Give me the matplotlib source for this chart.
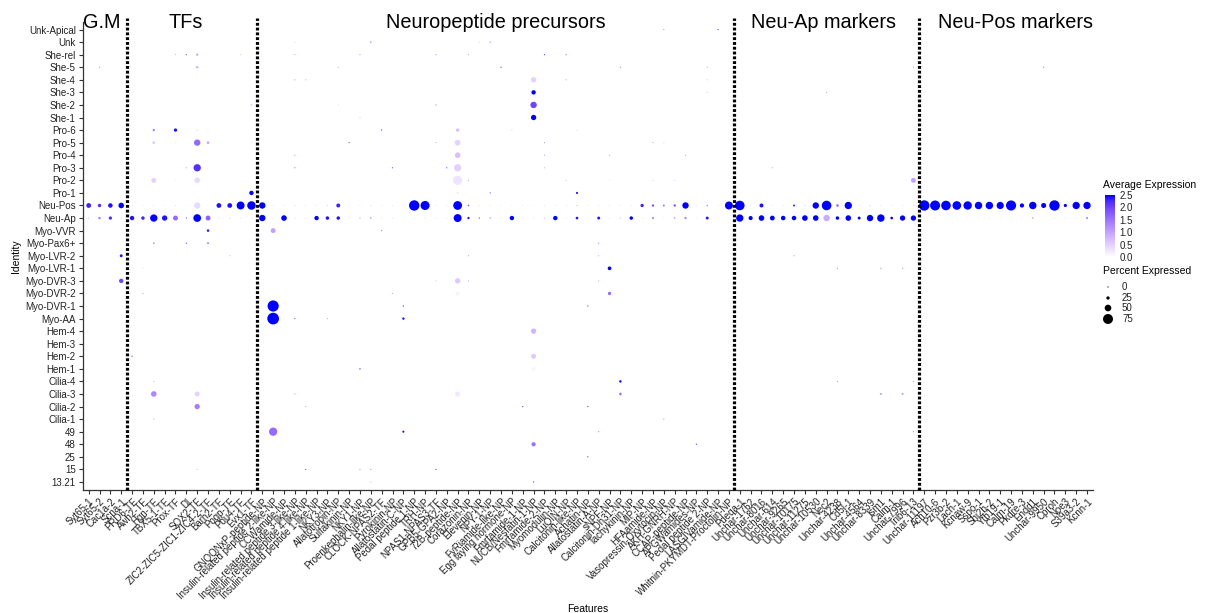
import matplotlib
matplotlib.use("Agg")
import matplotlib.pyplot as plt
import numpy as np
from matplotlib.colors import LinearSegmentedColormap, Normalize
from matplotlib.transforms import blended_transform_factory

plt.rcParams["font.family"] = ["Liberation Sans", "DejaVu Sans"]

# rows, top to bottom
cell_types = ["Unk-Apical", "Unk", "She-rel", "She-5", "She-4", "She-3", "She-2", "She-1",
              "Pro-6", "Pro-5", "Pro-4", "Pro-3", "Pro-2", "Pro-1", "Neu-Pos", "Neu-Ap",
              "Myo-VVR", "Myo-Pax6+", "Myo-LVR-2", "Myo-LVR-1", "Myo-DVR-3", "Myo-DVR-2",
              "Myo-DVR-1", "Myo-AA", "Hem-4", "Hem-3", "Hem-2", "Hem-1", "Cilia-4", "Cilia-3",
              "Cilia-2", "Cilia-1", "49", "48", "25", "15", "13.21"]

gm_features = ["Syt65-1", "Syt65-2", "Cac1a-2", "Scna-1"]
tf_features = ["PRD6-TF", "Awh2-TF", "Hgn-TF", "TBX5-1-TF", "Prox-TF", "Dl", "SOX2-TF",
               "ZIC2-ZIC5-ZIC1-ZIC4-2-TF", "Barh2-TF", "Pogp-TF", "Pou4-TF", "Evx1-TF"]
np_features = ["GNQQNxP-peptide-NP", "Insulin-related peptide 2-like-NP", "CCWamide-NP",
               "Insulin-related peptide 3-like-NP", "Insulin-related peptide 4-like-NP",
               "Insulin-related peptide 1-like-NP", "NKY3-NP", "Allatotropin-NP", "Sulfakinin-NP",
               "NKY1-NP", "Proenkephalin-like-NP", "CLOCK-NPAS2-TF", "Pyrokinin-NP",
               "Allatostatin-C-NP", "Pedal peptide 1-NP", "TRH-NP", "NPAS1-NPAS3-TF",
               "GPB5-GPA2-NP", "72B-peptide-NP", "Corazonin-NP", "Elevenin-NP", "NPY-1-NP",
               "FyRiamide-like-NP", "Egg laying hormone-NP", "Fmrfamide-1-NP",
               "NUCB/Nesfatin-1-NP", "Fmrfamide-2-NP", "Myomodulin-NP", "LuQIN-NP",
               "Calcitonin-like-NP", "Achatin-NP", "Allatostatin-A-NP", "sNPF-NP",
               "Calcitonin-Dh31-NP", "Tachykinin-NP", "MIP-NP", "HFAamide-NP",
               "Vasopressin-Oxytocin-NP", "AKH-GNRH-NP", "CCAP-peptide-NP", "APGWamides-NP",
               "Pedal peptide 2-NP", "LASGIVamide-NP", "Whitnin-PKYMDT-Proctolin-NP"]
neu_ap_features = ["Pdeqa-1", "Unchar-1762", "Unchar-8016", "Unchar-614", "Unchar-9265",
                   "Unchar-10175", "Unchar-11275", "Unchar-10530", "Nec2", "Unchar-4238",
                   "Cd5l-1", "Unchar-4564", "Unchar-8339", "Ism1", "Calm-1", "Unchar-7996",
                   "Trib6-13"]
neu_pos_features = ["Unchar-11197", "Ach10-6", "Pzr3b-2", "Lach-1", "Kcnaw-9", "Sspo-1",
                    "Shi2b-2", "Ytb19-1", "Calm-19", "Pkdre-3", "Endd1", "Unchar-9950",
                    "Cproh", "Noe3", "S39a3-2", "Kcnn-1"]
group_titles = ["G.M", "TFs", "Neuropeptide precursors", "Neu-Ap markers", "Neu-Pos markers"]
group_title_x = [1.25, 8.9, 37.5, 67.7, 85.4]

features = gm_features + tf_features + np_features + neu_ap_features + neu_pos_features

# average expression / percent expressed, one value per feature
neu_pos_avg = [2.3, 2.2, 2.4, 2.5,
               0.3, 0.2, 0.3, 0.2, 0.4, 0.2, 0.4, 0.2, 2.4, 2.4, 2.5, 2.5,
               2.5, 0.3, 0.3, 0.5, 0.3, 0.3, 0.5, 2.3, 0.3, 0.3, 0.4, 0.3, 0.3, 0.3, 2.5,
               2.5, 0.3, 0.3, 2.5, 1.8, 0.3, 0.3, 0.3, 0.3, 0.3, 0.2, 0.3, 0.3, 0.3, 0.8,
               0.3, 0.3, 0.3, 0.3, 0.3, 2.3, 2.0, 1.5, 2.0, 2.5, 0.3, 1.2, 0.3, 2.5,
               2.5, 0.3, 2.4, 0.3, 0.3, 2.3, 0.5, 2.5, 2.5, 1.6, 2.5, 0.3, 0.6, 0.3, 0.3,
               0.3, 0.5,
               2.5, 2.5, 2.5, 2.5, 2.5, 2.5, 2.5, 2.5, 2.5, 2.5, 2.5, 2.5, 2.5, 2.5, 2.5, 2.5]
neu_pos_pct = [36, 26, 34, 42,
               3, 2, 3, 2, 5, 2, 48, 2, 36, 36, 60, 64,
               48, 2, 2, 3, 2, 2, 3, 30, 2, 2, 3, 2, 2, 2, 78,
               68, 2, 2, 66, 12, 3, 2, 2, 2, 2, 3, 2, 2, 2, 6,
               2, 2, 2, 2, 2, 25, 17, 15, 17, 48, 2, 12, 2, 60,
               72, 3, 30, 3, 3, 15, 6, 48, 72, 20, 55, 3, 8, 3, 3,
               3, 6,
               78, 75, 72, 65, 63, 56, 56, 54, 76, 32, 56, 38, 78, 24, 55, 55]

neu_ap_avg = [0.8, 1.5, 2.2, 0.5,
              2.4, 2.3, 2.5, 2.4, 1.6, 2.0, 2.5, 1.7, 0.3, 0.5, 0.3, 0.3,
              2.5, 0.3, 2.5, 0.3, 0.3, 2.5, 2.4, 2.4, 0.3, 1.0, 2.0, 0.3, 0.3, 0.3, 0.3,
              0.3, 0.3, 0.3, 2.5, 2.4, 1.8, 1.5, 0.3, 2.5, 0.3, 0.3, 0.8, 2.5, 0.3, 2.4,
              0.3, 2.4, 0.3, 0.4, 2.5, 0.3, 2.2, 0.3, 1.2, 1.4, 0.3, 2.4, 0.3, 0.3,
              2.5, 2.5, 2.5, 2.5, 2.5, 2.5, 2.5, 2.5, 0.9, 2.5, 2.5, 2.5, 2.5, 2.5, 2.5,
              2.5, 2.5,
              0.3, 0.3, 0.3, 0.3, 0.3, 0.3, 0.3, 0.3, 0.3, 0.3, 1.5, 0.3, 0.4, 0.3, 0.3, 1.6]
neu_ap_pct = [8, 18, 25, 10,
              33, 26, 55, 40, 37, 8, 58, 37, 3, 5, 3, 3,
              48, 3, 42, 3, 3, 33, 26, 26, 3, 6, 8, 3, 3, 3, 3,
              3, 3, 3, 60, 17, 10, 10, 3, 33, 3, 3, 8, 33, 3, 20,
              3, 22, 3, 12, 26, 3, 12, 3, 12, 17, 3, 22, 3, 3,
              55, 31, 42, 36, 34, 34, 42, 42, 48, 26, 42, 22, 48, 56, 20,
              40, 40,
              3, 3, 3, 3, 3, 3, 3, 3, 3, 3, 10, 3, 10, 3, 3, 14]

# other cell types: (feature index, average expression, percent expressed)
sparse_dots = {
    "Unk-Apical": [(53, 1.2, 6), (58, 2.2, 7)],
    "Unk": [(19, 0.5, 4), (26, 2.0, 8), (36, 0.5, 4), (37, 1.5, 6)],
    "She-rel": [(8, 0.8, 5), (9, 2.0, 8), (10, 0.9, 18), (14, 0.5, 5), (19, 1.0, 6), (25, 1.0, 6),
                (32, 1.2, 6), (35, 1.0, 5), (42, 2.2, 7), (44, 1.5, 6)],
    "She-5": [(1, 1.2, 8), (10, 0.8, 20), (23, 1.0, 8), (38, 2.2, 7), (49, 1.4, 8), (57, 1.0, 6),
              (76, 1.2, 6), (88, 1.5, 8)],
    "She-4": [(19, 1.0, 5), (20, 0.8, 4), (41, 0.5, 40), (44, 1.0, 5), (57, 0.6, 4)],
    "She-3": [(41, 2.5, 33), (57, 0.6, 4), (68, 1.0, 5)],
    "She-2": [(15, 0.5, 15), (23, 0.4, 5), (32, 1.5, 5), (41, 2.0, 48)],
    "She-1": [(25, 0.5, 4), (41, 2.5, 40)],
    "Pro-6": [(6, 1.4, 18), (8, 2.4, 25), (10, 0.6, 10), (11, 0.3, 6), (27, 2.0, 10), (34, 0.7, 25),
              (39, 0.5, 5), (45, 0.5, 5)],
    "Pro-5": [(6, 0.6, 20), (8, 0.3, 8), (10, 1.6, 48), (11, 1.0, 20), (15, 0.3, 8), (24, 2.0, 8),
              (32, 1.0, 5), (34, 0.5, 42), (42, 1.2, 6), (52, 1.0, 5), (53, 0.5, 4)],
    "Pro-4": [(19, 1.2, 6), (34, 0.7, 42), (42, 1.0, 5), (48, 0.8, 10), (55, 1.0, 5)],
    "Pro-3": [(9, 1.0, 5), (10, 2.2, 55), (19, 1.5, 8), (28, 2.0, 8), (33, 2.0, 6), (34, 0.5, 55),
              (42, 0.8, 5), (63, 1.0, 6)],
    "Pro-2": [(6, 0.5, 37), (8, 0.2, 8), (10, 0.4, 42), (11, 0.2, 8), (34, 0.3, 70), (35, 1.0, 7),
              (44, 0.6, 4), (48, 0.3, 8), (52, 0.6, 4), (54, 0.6, 4), (76, 1.0, 37)],
    "Pro-1": [(15, 2.5, 33), (34, 0.4, 12), (37, 2.0, 8), (45, 2.4, 16)],
    "Myo-VVR": [(11, 2.3, 20), (17, 1.0, 37), (27, 1.5, 7)],
    "Myo-Pax6+": [(6, 1.4, 12), (9, 2.2, 7), (11, 1.5, 14), (47, 1.4, 7)],
    "Myo-LVR-2": [(3, 2.4, 22), (13, 0.8, 6), (35, 1.0, 6), (47, 1.0, 6), (65, 1.2, 6)],
    "Myo-LVR-1": [(5, 0.4, 4), (48, 2.5, 28), (69, 1.3, 6), (73, 1.3, 6), (75, 1.3, 6)],
    "Myo-DVR-3": [(3, 2.0, 33), (32, 0.6, 5), (34, 0.6, 40), (35, 1.0, 6), (47, 1.0, 6)],
    "Myo-DVR-2": [(5, 1.0, 5), (28, 1.0, 5), (34, 0.15, 30), (48, 1.6, 25)],
    "Myo-DVR-1": [(17, 2.5, 84), (29, 1.5, 12), (46, 2.2, 7)],
    "Myo-AA": [(17, 2.5, 88), (19, 2.0, 8), (22, 1.0, 6), (29, 2.4, 18)],
    "Hem-4": [(41, 0.8, 40)],
    "Hem-3": [],
    "Hem-2": [(4, 1.3, 12), (41, 0.6, 37)],
    "Hem-1": [(25, 2.2, 10), (41, 0.1, 30)],
    "Cilia-4": [(6, 0.8, 7), (49, 2.5, 18), (69, 1.2, 5), (76, 1.2, 5)],
    "Cilia-3": [(6, 1.3, 42), (10, 0.5, 37), (19, 1.0, 8), (34, 0.25, 37), (49, 1.5, 20),
                (73, 1.0, 16), (75, 1.0, 16)],
    "Cilia-2": [(10, 1.4, 40), (20, 1.0, 6), (40, 2.2, 6), (46, 2.2, 6)],
    "Cilia-1": [(6, 1.0, 7), (53, 1.2, 6)],
    "49": [(17, 1.6, 62), (29, 2.4, 16), (47, 1.3, 6), (76, 1.4, 7)],
    "48": [(41, 1.5, 32), (56, 2.2, 7)],
    "25": [(46, 2.2, 6)],
    "15": [(10, 0.9, 7), (20, 2.0, 7), (25, 1.2, 7), (26, 1.2, 7), (32, 2.2, 6)],
    "13.21": [(26, 0.8, 5), (41, 1.5, 12)],
}

legend_pct = [0, 25, 50, 75]
legend_avg_ticks = [0.0, 0.5, 1.0, 1.5, 2.0, 2.5]

# white -> blue, interpolated in Lab like ggplot
cmap = LinearSegmentedColormap.from_list(
    "avg", [(0, "#FFFFFF"), (0.25, "#DCC5FF"), (0.5, "#B28BFF"), (0.75, "#7E51FF"),
            (0.9, "#502BFF"), (1, "#0000FF")])
norm = Normalize(0, 2.5)


def dot_size(pct):
    d_px = np.maximum(1.2, np.asarray(pct, dtype=float) * 0.133)
    return (d_px * 0.72) ** 2


xs, ys, cs, ss = [], [], [], []
for name, avg, pct in [("Neu-Pos", neu_pos_avg, neu_pos_pct), ("Neu-Ap", neu_ap_avg, neu_ap_pct)]:
    r = cell_types.index(name)
    for j in range(len(features)):
        xs.append(j); ys.append(r); cs.append(avg[j]); ss.append(pct[j])
for name, dots in sparse_dots.items():
    r = cell_types.index(name)
    for j, avg, pct in dots:
        xs.append(j); ys.append(r); cs.append(avg); ss.append(pct)

W, H = 1212, 613
fig = plt.figure(figsize=(W / 100, H / 100), dpi=100)
ax = fig.add_axes([82.7 / W, (H - 489.5) / H, (1093 - 82.7) / W, (489.5 - 22) / H])

order = np.argsort(ss)
ax.scatter(np.array(xs)[order], np.array(ys)[order], s=dot_size(np.array(ss)[order]),
           c=np.array(cs)[order], cmap=cmap, norm=norm, linewidths=0, zorder=2)

n = len(features)
ax.set_xlim(-0.55, n - 1 + 0.55)
ax.set_ylim(len(cell_types) - 1 + 0.6, -0.6)
ax.set_xticks(range(n))
ax.set_xticklabels(features, rotation=45, ha="right", va="top", rotation_mode="anchor",
                   fontsize=7, color="#222222")
ax.set_yticks(range(len(cell_types)))
ax.set_yticklabels(cell_types, fontsize=7, color="#222222")
ax.tick_params(length=3, width=0.8, color="#333333", pad=2)
for side in ["top", "right"]:
    ax.spines[side].set_visible(False)
for side in ["left", "bottom"]:
    ax.spines[side].set_linewidth(0.9)
    ax.spines[side].set_color("#333333")
ax.set_xlabel("Features", fontsize=7.5, labelpad=2)
ax.set_ylabel("Identity", fontsize=7.5, labelpad=3)

# group separators and titles
trans = blended_transform_factory(ax.transData, ax.transAxes)
bounds = np.cumsum([len(gm_features), len(tf_features), len(np_features), len(neu_ap_features)]) - 0.5
for b in bounds:
    ax.plot([b, b], [0, 1.008], transform=trans, color="black", lw=2.3,
            linestyle=(0, (0.9, 0.6)), clip_on=False, zorder=3)
for t, gx in zip(group_titles, group_title_x):
    ax.text(gx, (489.5 - 28) / 467.5, t, transform=trans, ha="center", va="baseline",
            fontsize=14.3)

# colour bar legend
fig.text(1103 / W, 1 - 185 / H, "Average Expression", fontsize=7.5, va="center")
cax = fig.add_axes([1105 / W, (H - 257) / H, 10 / W, 62 / H])
grad = np.linspace(0, 2.5, 256).reshape(-1, 1)
cax.imshow(grad, aspect="auto", cmap=cmap, norm=norm, origin="lower", extent=[0, 1, 0, 2.5])
cax.set_xticks([])
cax.yaxis.tick_right()
cax.set_yticks(legend_avg_ticks)
cax.set_yticklabels([f"{v:.1f}" for v in legend_avg_ticks], fontsize=7, color="#222222")
cax.tick_params(length=0, pad=3)
for sp in cax.spines.values():
    sp.set_visible(False)

# size legend
fig.text(1103 / W, 1 - 271 / H, "Percent Expressed", fontsize=7.5, va="center")
lax = fig.add_axes([1100 / W, (H - 325) / H, 100 / W, 45 / H])
lax.set_xlim(0, 100)
lax.set_ylim(325, 280)
lax.axis("off")
leg_y = [287, 298, 308, 319]
lax.scatter([8] * len(legend_pct), leg_y, s=dot_size(legend_pct), color="black", linewidths=0)
for p, y in zip(legend_pct, leg_y):
    lax.text(22, y, str(p), fontsize=7, va="center", color="#222222")

fig.savefig("out.png", dpi=100)
